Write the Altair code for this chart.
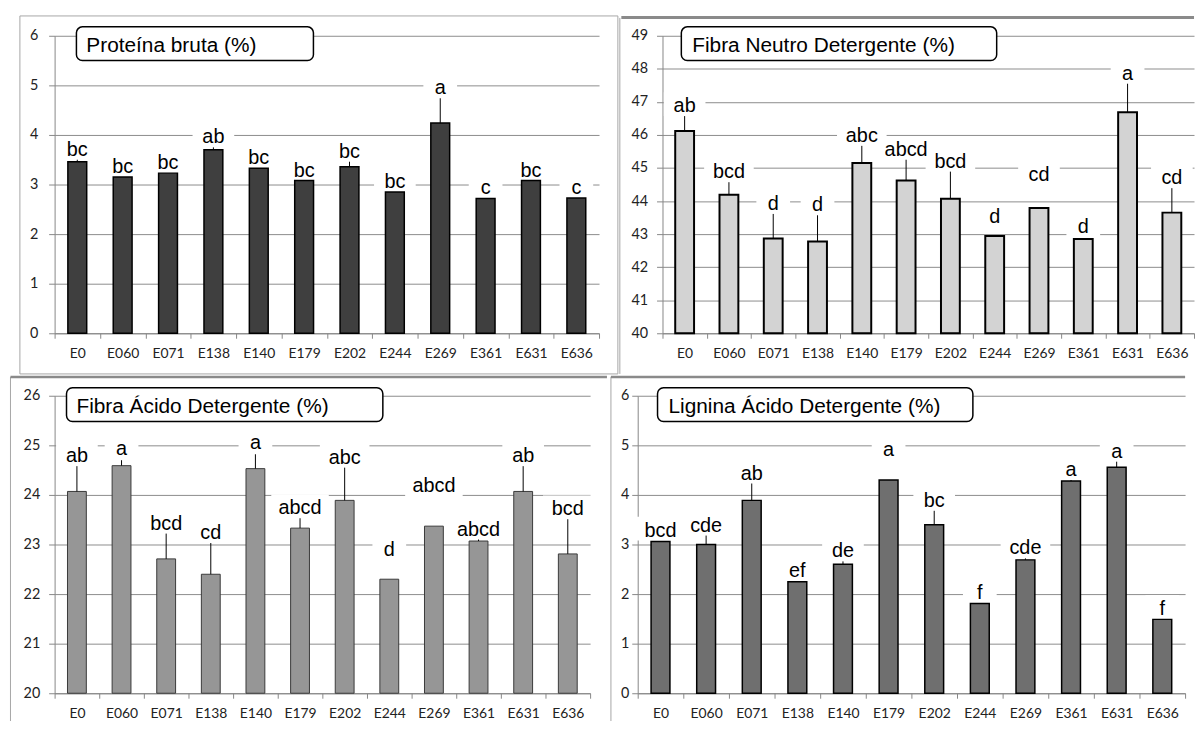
import altair as alt
import pandas as pd

cats = ["E0", "E060", "E071", "E138", "E140", "E179", "E202", "E244", "E269", "E361", "E631", "E636"]

# Proteína bruta
pb_vals = [3.46, 3.15, 3.23, 3.70, 3.33, 3.08, 3.36, 2.85, 4.24, 2.72, 3.08, 2.73]
pb_err = [3.50, 3.15, 3.23, 3.75, 3.33, 3.08, 3.46, 2.85, 4.74, 2.72, 3.08, 2.73]
pb_lab = [3.50, 3.15, 3.23, 3.75, 3.33, 3.08, 3.46, 2.85, 4.74, 2.72, 3.08, 2.73]
pb_letters = ["bc", "bc", "bc", "ab", "bc", "bc", "bc", "bc", "a", "c", "bc", "c"]

# Fibra Neutro Detergente
fnd_vals = [46.12, 44.19, 42.87, 42.78, 45.15, 44.62, 44.07, 42.94, 43.79, 42.85, 46.69, 43.65]
fnd_err = [46.57, 44.57, 43.61, 43.57, 45.67, 45.25, 44.89, 42.94, 43.79, 42.85, 47.55, 44.39]
fnd_lab = [46.57, 44.57, 43.61, 43.57, 45.67, 45.25, 44.89, 43.22, 44.50, 42.92, 47.55, 44.39]
fnd_letters = ["ab", "bcd", "d", "d", "abc", "abcd", "bcd", "d", "cd", "d", "a", "cd"]

# Fibra Ácido Detergente
fad_vals = [24.07, 24.59, 22.71, 22.40, 24.53, 23.33, 23.89, 22.30, 23.37, 23.07, 24.07, 22.81]
fad_err = [24.58, 24.70, 23.22, 23.03, 24.82, 23.53, 24.55, 22.30, 23.37, 23.10, 24.58, 23.51]
fad_lab = [24.58, 24.72, 23.22, 23.03, 24.84, 23.53, 24.55, 22.69, 23.97, 23.10, 24.58, 23.51]
fad_letters = ["ab", "a", "bcd", "cd", "a", "abcd", "abc", "d", "abcd", "abcd", "ab", "bcd"]

# Lignina Ácido Detergente
lad_vals = [3.06, 3.00, 3.89, 2.25, 2.60, 4.30, 3.40, 1.81, 2.69, 4.28, 4.56, 1.49]
lad_err = [3.06, 3.18, 4.23, 2.25, 2.66, 4.30, 3.68, 1.81, 2.72, 4.30, 4.67, 1.49]
lad_lab = [3.08, 3.18, 4.23, 2.27, 2.66, 4.70, 3.68, 1.82, 2.72, 4.30, 4.67, 1.50]
lad_letters = ["bcd", "cde", "ab", "ef", "de", "a", "bc", "f", "cde", "a", "a", "f"]

TEXT_FONT = "Liberation Sans"
AXIS_FONT = "Lato"


def panel(title, vals, err, lab, letters, ymin, ymax, W, H,
          fill, stroke, sw, frame, box, tpos, lpad):
    df = pd.DataFrame({"cat": cats, "v": vals, "e": err, "l": lab, "t": letters})
    df["b"] = ymin
    df["bw"] = df["t"].str.len() * 8 + 26

    x = alt.X("cat:N", sort=cats,
              scale=alt.Scale(paddingInner=0, paddingOuter=0),
              axis=alt.Axis(title=None, labelAngle=0, tickBand="extent", grid=False,
                            tickSize=5, labelPadding=8))
    yscale = alt.Scale(domain=[ymin, ymax], nice=False, zero=False)
    yaxis = alt.Axis(title=None, values=list(range(ymin, ymax + 1)), grid=True,
                     ticks=True, tickSize=6, labelPadding=lpad, format="d",
                     labelOverlap=False, labelFontSize=14.5)

    base = alt.Chart(df)
    bg = base.mark_tick(color="white", thickness=24, yOffset=-12, opacity=1).encode(
        x=x, y=alt.Y("l:Q", scale=yscale, axis=yaxis),
        size=alt.Size("bw:Q", scale=None, legend=None))
    bars = base.mark_bar(size=19, fill=fill, stroke=stroke, strokeWidth=sw).encode(
        x=x, y=alt.Y("v:Q", scale=yscale, axis=yaxis), y2="b:Q")
    errs = base.mark_rule(color="black", strokeWidth=1).encode(
        x=x, y=alt.Y("v:Q", scale=yscale, axis=yaxis), y2="e:Q")
    txt = base.mark_text(font=TEXT_FONT, fontSize=20, baseline="alphabetic", dy=-4,
                         color="black").encode(
        x=x, y=alt.Y("l:Q", scale=yscale, axis=yaxis), text="t:N")

    one = pd.DataFrame({"t": [title]})
    layers = []
    for (x1, x2, y1, y2, col, w) in frame:
        layers.append(alt.Chart(one).mark_rule(color=col, strokeWidth=w).encode(
            x=alt.value(x1), x2=alt.value(x2), y=alt.value(y1), y2=alt.value(y2)))
    bx1, bx2, by1, by2 = box
    tbox = alt.Chart(one).mark_rect(cornerRadius=6, fill="white", stroke="black",
                                    strokeWidth=1.5).encode(
        x=alt.value(bx1), x2=alt.value(bx2), y=alt.value(by1), y2=alt.value(by2))
    ttxt = alt.Chart(one).mark_text(font=TEXT_FONT, fontSize=21, align="left",
                                    baseline="alphabetic", color="black").encode(
        x=alt.value(tpos[0]), y=alt.value(tpos[1]), text="t:N")

    return alt.layer(*layers, bg, bars, errs, txt, tbox, ttxt).properties(width=W, height=H)


H = 300
W1, W2, W3, W4 = 549, 536, 540, 552
G1 = "#a6a6a6"
G2 = "#8a8a8a"

p1 = panel("Proteína bruta (%)", pb_vals, pb_err, pb_lab, pb_letters, 0, 6, W1, H,
           "#3f3f3f", "black", 1.5,
           [(-35, W1 + 19, -20, -20, G1, 1), (-35, W1 + 19, H + 41, H + 41, G1, 1),
            (-35, -35, -20, H + 41, G1, 1), (W1 + 19, W1 + 19, -20, H + 41, G1, 1)],
           (22, 261, -9, 25), (32, 16), 11)
p2 = panel("Fibra Neutro Detergente (%)", fnd_vals, fnd_err, fnd_lab, fnd_letters, 40, 49, W2, H,
           "#d3d3d3", "black", 2,
           [(-43, -43, -18, H + 41, G1, 1), (-41.5, W2, -18.5, -18.5, G2, 3)],
           (19, 337, -9, 25), (30, 16), 9)
p3 = panel("Fibra Ácido Detergente (%)", fad_vals, fad_err, fad_lab, fad_letters, 20, 26, W3, H,
           "#969696", "#3a3a3a", 1,
           [(-44.5, -44.5, -19, 328, G1, 1), (-44.5, W3 + 17, -19, -19, G2, 2.5)],
           (12, 331, -8, 26), (22, 17), 9)
p4 = panel("Lignina Ácido Detergente (%)", lad_vals, lad_err, lad_lab, lad_letters, 0, 6, W4, H,
           "#6f6f6f", "black", 1.5,
           [(-27, -27, -19, 328, G1, 1), (-27, W4, -19, -19, G2, 2.5)],
           (20, 338, -8, 26), (31, 17), 3)

row1 = alt.hconcat(p1, p2, spacing=0, bounds="full")
row2 = alt.hconcat(p3, p4, spacing=0, bounds="full")

chart = alt.vconcat(row1, row2, spacing=0, bounds="full").properties(
    padding={"left": 1, "top": 4, "right": 0, "bottom": 0}
).configure_view(stroke=None).configure_axis(
    labelFont=AXIS_FONT, labelFontSize=14, labelColor="#222222",
    domainColor="#878787", tickColor="#878787", gridColor="#8c8c8c", gridWidth=1
)

chart.save("out.html", embed_options={"renderer": "svg", "actions": False})
